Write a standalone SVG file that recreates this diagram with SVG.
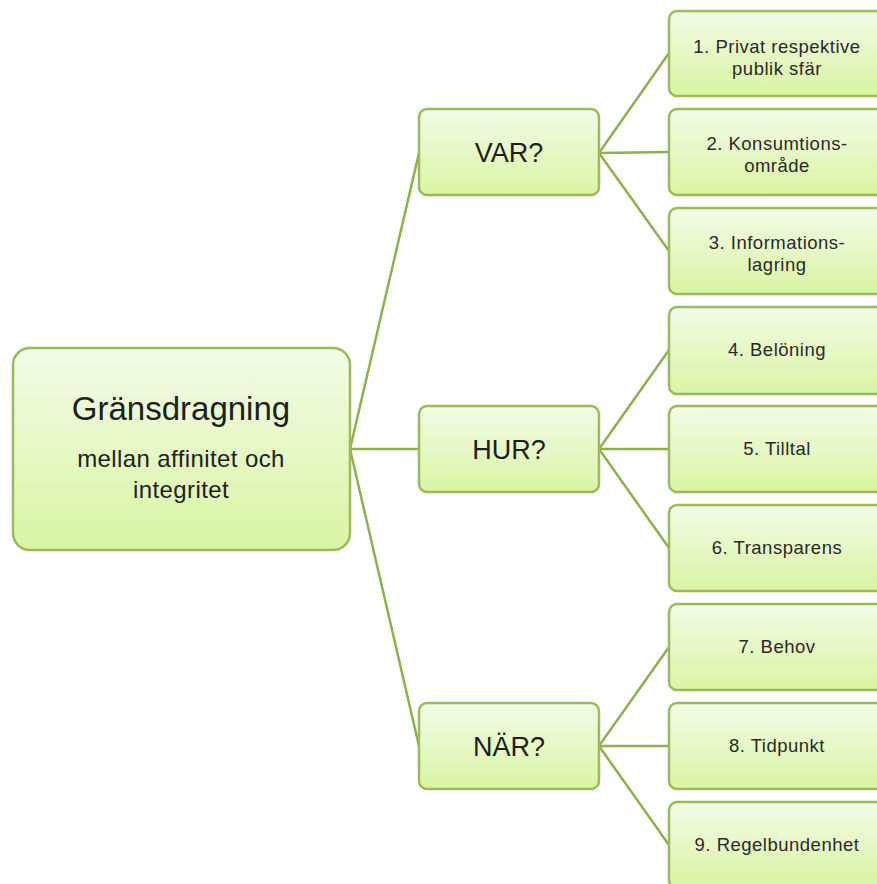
<svg xmlns="http://www.w3.org/2000/svg" width="877" height="884" viewBox="0 0 877 884">
  <defs>
    <linearGradient id="fill" x1="0" y1="0" x2="0" y2="1">
      <stop offset="0" stop-color="#f3fbe7"/>
      <stop offset="1" stop-color="#d9f5a3"/>
    </linearGradient>
    <style>
      .box { fill: url(#fill); stroke: #9bbb59; stroke-width: 2.5; }
      .link { fill: none; stroke: #8fb04f; stroke-width: 2.5; stroke-linecap: round; }
      text { font-family: "Liberation Sans", Arial, sans-serif; fill: #1e1e1e; text-anchor: middle; }
      .title { font-size: 33px; }
      .sub { font-size: 24px; letter-spacing: 0.4px; }
      .mid { font-size: 27px; }
      .leaf { font-size: 18.5px; letter-spacing: 0.5px; fill: #2a2a2a; }
    </style>
  </defs>

  <rect width="877" height="884" fill="#ffffff"/>

  <!-- connectors -->
  <g id="connectors">
    <line class="link" x1="350" y1="449" x2="419" y2="153"/>
    <line class="link" x1="350" y1="449" x2="419" y2="449"/>
    <line class="link" x1="350" y1="449" x2="419" y2="746"/>

    <line class="link" x1="599" y1="153" x2="669" y2="53"/>
    <line class="link" x1="599" y1="153" x2="669" y2="152"/>
    <line class="link" x1="599" y1="153" x2="669" y2="251"/>

    <line class="link" x1="599" y1="449" x2="669" y2="350"/>
    <line class="link" x1="599" y1="449" x2="669" y2="449"/>
    <line class="link" x1="599" y1="449" x2="669" y2="548"/>

    <line class="link" x1="599" y1="746" x2="669" y2="647"/>
    <line class="link" x1="599" y1="746" x2="669" y2="746"/>
    <line class="link" x1="599" y1="746" x2="669" y2="845"/>
  </g>

  <!-- root -->
  <g id="root">
    <rect class="box" x="13" y="348" width="337" height="202" rx="17"/>
    <text class="title" x="181" y="420">Gränsdragning</text>
    <text class="sub" x="181" y="467">mellan affinitet och</text>
    <text class="sub" x="181" y="498">integritet</text>
  </g>

  <!-- questions -->
  <g id="var">
    <rect class="box" x="419" y="109" width="180" height="86" rx="8"/>
    <text class="mid" x="509" y="162">VAR?</text>
  </g>
  <g id="hur">
    <rect class="box" x="419" y="406" width="180" height="86" rx="8"/>
    <text class="mid" x="509" y="459">HUR?</text>
  </g>
  <g id="nar">
    <rect class="box" x="419" y="703" width="180" height="86" rx="8"/>
    <text class="mid" x="509" y="756">NÄR?</text>
  </g>

  <!-- leaves -->
  <g id="leaf1">
    <rect class="box" x="669" y="11" width="240" height="85" rx="8"/>
    <text class="leaf" x="777" y="53">1. Privat respektive</text>
    <text class="leaf" x="777" y="75">publik sfär</text>
  </g>
  <g id="leaf2">
    <rect class="box" x="669" y="109" width="240" height="86" rx="8"/>
    <text class="leaf" x="777" y="150">2. Konsumtions-</text>
    <text class="leaf" x="777" y="172">område</text>
  </g>
  <g id="leaf3">
    <rect class="box" x="669" y="208" width="240" height="86" rx="8"/>
    <text class="leaf" x="777" y="249">3. Informations-</text>
    <text class="leaf" x="777" y="271">lagring</text>
  </g>
  <g id="leaf4">
    <rect class="box" x="669" y="307" width="240" height="87" rx="8"/>
    <text class="leaf" x="777" y="356">4.  Belöning</text>
  </g>
  <g id="leaf5">
    <rect class="box" x="669" y="406" width="240" height="86" rx="8"/>
    <text class="leaf" x="777" y="455">5. Tilltal</text>
  </g>
  <g id="leaf6">
    <rect class="box" x="669" y="505" width="240" height="86" rx="8"/>
    <text class="leaf" x="777" y="554">6. Transparens</text>
  </g>
  <g id="leaf7">
    <rect class="box" x="669" y="604" width="240" height="86" rx="8"/>
    <text class="leaf" x="777" y="653">7. Behov</text>
  </g>
  <g id="leaf8">
    <rect class="box" x="669" y="703" width="240" height="86" rx="8"/>
    <text class="leaf" x="777" y="752">8. Tidpunkt</text>
  </g>
  <g id="leaf9">
    <rect class="box" x="669" y="802" width="240" height="86" rx="8"/>
    <text class="leaf" x="777" y="851">9. Regelbundenhet</text>
  </g>
</svg>
